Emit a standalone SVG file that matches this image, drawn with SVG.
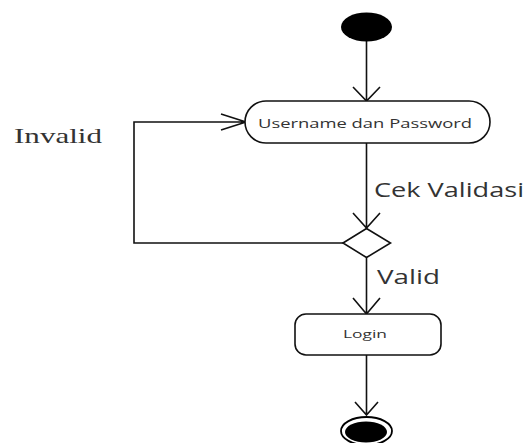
<svg xmlns="http://www.w3.org/2000/svg" width="529" height="443" viewBox="0 0 529 443">
<style>
.ln{fill:none;stroke:#111;stroke-width:1.6}
.nd{fill:#fff;stroke:#111;stroke-width:1.6}
.sans{font-family:"Open Sans","Liberation Sans",sans-serif;fill:#333}
.serif{font-family:"Liberation Serif","DejaVu Serif",serif;fill:#333}
</style>
<rect width="529" height="443" fill="#fff"/>
<g id="connectors">
<path class="ln" d="M366.5,41 V101 M353,87 L366.5,101 L380,87"/>
<path class="ln" d="M366.5,143 V228 M353,213 L366.5,228 L380,213"/>
<path class="ln" d="M366.5,258 V314 M353,298 L366.5,314 L380,298"/>
<path class="ln" d="M366.5,355 V415 M355,402 L366.5,415 L378,402"/>
<path class="ln" d="M343,243 H134 V122 H246 M221,114 L246,122 L221,130"/>
</g>
<g id="start"><ellipse cx="366.5" cy="27" rx="25.5" ry="14.5" fill="#000"/></g>
<g id="username">
<rect class="nd" x="245" y="101" width="245" height="42" rx="21" ry="21"/>
<text class="sans" x="258" y="128" font-size="13.5" textLength="214" lengthAdjust="spacingAndGlyphs">Username dan Password</text>
</g>
<g id="decision"><polygon class="nd" points="343,243 366.5,228.5 390.5,243 366.5,257.5"/></g>
<g id="login">
<rect class="nd" x="295" y="314" width="146" height="41" rx="11" ry="11"/>
<text class="sans" x="343" y="338" font-size="11.5" textLength="44" lengthAdjust="spacingAndGlyphs">Login</text>
</g>
<g id="end">
<ellipse cx="366.5" cy="431" rx="25.5" ry="14" fill="#fff" stroke="#000" stroke-width="1.8"/>
<ellipse cx="366" cy="432" rx="21" ry="10.5" fill="#000"/>
</g>
<g id="labels">
<text class="serif" x="14" y="143" font-size="21" textLength="88" lengthAdjust="spacingAndGlyphs">Invalid</text>
<text class="sans" x="374" y="196.5" font-size="19.5" textLength="150" lengthAdjust="spacingAndGlyphs">Cek Validasi</text>
<text class="sans" x="377" y="284" font-size="19.5" textLength="63" lengthAdjust="spacingAndGlyphs">Valid</text>
</g>
</svg>
